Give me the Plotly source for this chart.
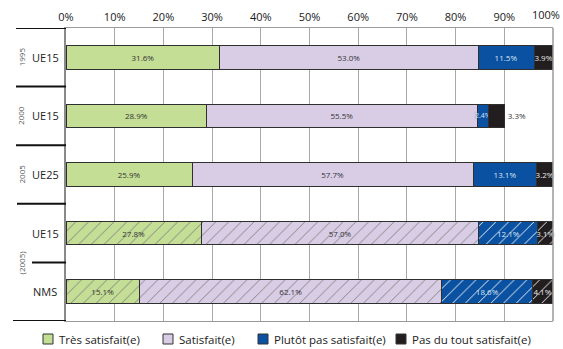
import plotly.graph_objects as go

# ---- data -------------------------------------------------------------
rows = ["UE15", "UE15", "UE25", "UE15", "NMS"]
years = ["1995", "2000", "2005", "(2005)"]
series_names = ["Très satisfait(e)", "Satisfait(e)",
                "Plutôt pas satisfait(e)", "Pas du tout satisfait(e)"]
tres_satisfait = [31.6, 28.9, 25.9, 27.8, 15.1]
satisfait = [53.0, 55.5, 57.7, 57.0, 62.1]
plutot_pas = [11.5, 2.4, 13.1, 12.1, 18.6]
pas_du_tout = [3.9, 3.3, 3.2, 3.1, 4.1]
x_ticks = [0, 10, 20, 30, 40, 50, 60, 70, 80, 90, 100]
hatched = [False, False, False, True, True]

# ---- styling ----------------------------------------------------------
colors = ["#c4de96", "#d9cde6", "#0a51a1", "#221e1f"]
text_colors = ["#333333", "#333333", "#dbe6f3", "#e8e8e8"]
text_glow = ["", "", "0px 0px 2px #0a51a1", "0px 0px 2px #221e1f"]
hatch_colors = ["#7d7d7d", "#7d7d7d", "#ffffff", "#ffffff"]
FONT = "Open Sans"

W, H = 563, 349
L, R, T, B = 66, 10, 28, 28
PW, PH = W - L - R, H - T - B


def px_x(px):
    return (px - L) / PW


def px_y(py):
    return (H - B - py) / PH


all_series = [tres_satisfait, satisfait, plutot_pas, pas_du_tout]
fig = go.Figure()
ypos = list(range(len(rows)))
last = len(all_series) - 1
for k, (name, vals, col, tcol, glow, hcol) in enumerate(zip(
        series_names, all_series, colors, text_colors, text_glow, hatch_colors)):
    # a stacked segment too thin for its label: shrink the label, and put the
    # final segment's label just past the end of its bar
    sizes = [7 if v < 3 else 8 for v in vals]
    positions = ["inside"] * len(vals)
    if k == last:
        positions = ["outside" if sum(s[i] for s in all_series) < 99 else "inside"
                     for i in range(len(vals))]
    tfont = dict(family=FONT, size=sizes, color=tcol)
    if glow:
        tfont["shadow"] = glow
    fig.add_trace(go.Bar(
        y=ypos, x=vals, orientation="h", name=name,
        text=[f"{v:.1f}%" for v in vals],
        textposition=positions, insidetextanchor="middle", textangle=0,
        constraintext="none", cliponaxis=False,
        textfont=tfont,
        outsidetextfont=dict(family=FONT, size=8, color="#333333", shadow="none"),
        marker=dict(
            color=col,
            line=dict(color="#2f2f2f", width=1),
            pattern=dict(
                shape=["/" if h else "" for h in hatched],
                fgcolor=hcol, bgcolor=col, fillmode="replace",
                size=9, solidity=0.1),
        ),
        showlegend=False,
        hoverinfo="skip",
    ))

fig.update_layout(
    width=W, height=H,
    margin=dict(l=L, r=R, t=T, b=B),
    barmode="stack", bargap=0.6,
    plot_bgcolor="white", paper_bgcolor="white",
    font=dict(family=FONT, color="#222222"),
    xaxis=dict(
        range=[0, 100], side="top", automargin=False,
        tickvals=x_ticks[:-1], ticktext=[f"{t}%" for t in x_ticks[:-1]],
        tickfont=dict(size=11, color="#1a1a1a"),
        showgrid=True, gridcolor="#a8a8a8", gridwidth=1,
        zeroline=False, showline=True, linecolor="#9a9a9a", linewidth=1,
        mirror=True, ticks="", ticklabelstandoff=2,
    ),
    yaxis=dict(
        range=[len(rows) - 0.5, -0.5], automargin=False,
        showticklabels=False, showgrid=False, zeroline=False,
        showline=True, linecolor="#8a8a8a", linewidth=2, mirror=False,
        ticks="",
    ),
)

# the last tick label sits against the right edge of the page
fig.add_annotation(x=x_ticks[-1], xref="x", y=1, yref="paper", yanchor="bottom",
                   xanchor="right", xshift=(W - L - PW) - 1, yshift=4,
                   text=f"{x_ticks[-1]}%", showarrow=False,
                   font=dict(size=11, color="#1a1a1a"))

# right border of the plot frame
fig.add_shape(type="line", xref="paper", yref="paper", x0=1, x1=1, y0=0, y1=1,
              line=dict(color="#9a9a9a", width=1.5))

# row labels
for i, lab in enumerate(rows):
    fig.add_annotation(x=px_x(45), xref="paper", y=i, yref="y", text=lab,
                       showarrow=False, xanchor="center", yanchor="middle",
                       font=dict(size=11, color="#222222"))

# rotated year labels
year_rows = [0, 1, 2, 3.5]
for yr, yv in zip(years, year_rows):
    fig.add_annotation(x=px_x(21), xref="paper", y=yv, yref="y", text=yr,
                       showarrow=False, textangle=-90, xanchor="center",
                       yanchor="middle", font=dict(size=8, color="#555555"))

# black separators between groups
separators = [(-0.5, 16), (0.5, 16), (1.5, 16), (2.5, 17), (3.5, 32), (4.5, 13)]
for yv, x0 in separators:
    fig.add_shape(type="line", xref="paper", yref="y", x0=px_x(x0), x1=0,
                  y0=yv, y1=yv, line=dict(color="#111111", width=2))

# legend drawn underneath the plot
legend_x = [43, 163, 258, 396]
sq = 10
ly = 339
for name, col, lx in zip(series_names, colors, legend_x):
    fig.add_shape(type="rect", xref="paper", yref="paper",
                  x0=px_x(lx), x1=px_x(lx + sq),
                  y0=px_y(ly + sq / 2), y1=px_y(ly - sq / 2),
                  fillcolor=col, line=dict(color="#333333", width=1))
    fig.add_annotation(x=px_x(lx + sq + 4), xref="paper", y=px_y(ly),
                       yref="paper", text=name, showarrow=False,
                       xanchor="left", yanchor="middle",
                       font=dict(size=11.5, color="#222222"))

fig.write_html("out.html")
